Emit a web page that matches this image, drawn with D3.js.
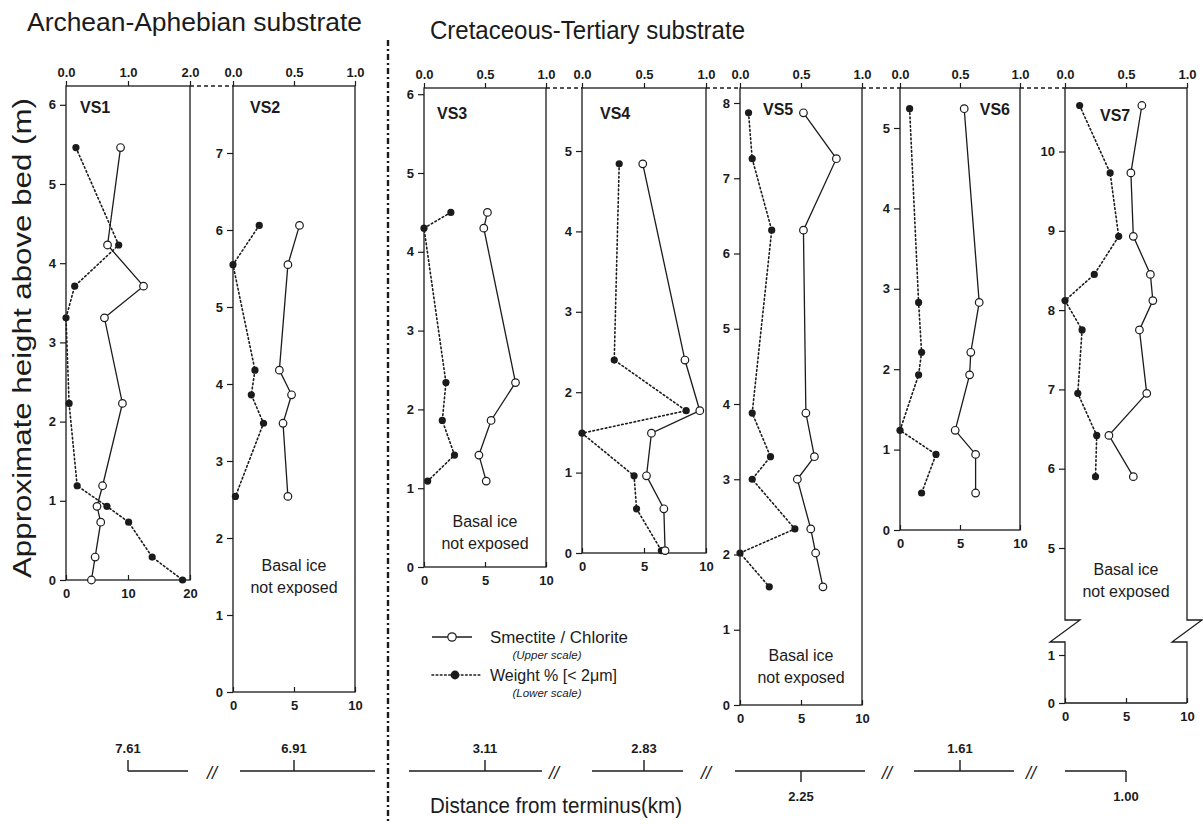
<!DOCTYPE html>
<html>
<head>
<meta charset="utf-8">
<script src="https://cdn.jsdelivr.net/npm/d3@7"></script>
<style>
  body { margin: 0; background: #fff; }
  svg  { font-family: "Liberation Sans", Arial, Helvetica, sans-serif; }
</style>
</head>
<body>
<svg id="chart" width="1203" height="824"></svg>
<script>
// ---- data (height above bed in m, smectite/chlorite ratio, weight % < 2 µm)
const vs1Height   = [5.46, 4.23, 3.71, 3.31, 2.23, 1.19, 0.93, 0.73, 0.29, 0.0];
const vs1Smectite = [0.88, 0.67, 1.25, 0.62, 0.91, 0.59, 0.50, 0.56, 0.47, 0.41];
const vs1Weight   = [1.6, 8.5, 1.4, 0, 0.5, 1.8, 6.6, 10.1, 13.9, 18.8];

const vs2Height   = [6.06, 5.55, 4.18, 3.86, 3.49, 2.54];
const vs2Smectite = [0.545, 0.45, 0.38, 0.48, 0.41, 0.45];
const vs2Weight   = [2.15, 0, 1.8, 1.5, 2.5, 0.2];

const vs3Height   = [4.5, 4.3, 2.34, 1.86, 1.42, 1.09];
const vs3Smectite = [0.52, 0.49, 0.75, 0.55, 0.45, 0.51];
const vs3Weight   = [2.2, 0, 1.8, 1.5, 2.5, 0.3];

const vs4Height   = [4.84, 2.40, 1.77, 1.49, 0.96, 0.55, 0.03];
const vs4Smectite = [0.49, 0.83, 0.95, 0.56, 0.52, 0.66, 0.67];
const vs4Weight   = [3.0, 2.6, 8.4, 0, 4.2, 4.4, 6.4];

const vs5Height   = [7.87, 7.26, 6.31, 3.88, 3.30, 3.0, 2.34, 2.02, 1.57];
const vs5Smectite = [0.52, 0.79, 0.52, 0.54, 0.61, 0.47, 0.58, 0.62, 0.68];
const vs5Weight   = [0.7, 1.0, 2.6, 1.0, 2.5, 1.0, 4.5, 0, 2.4];

const vs6Height   = [5.24, 2.83, 2.21, 1.93, 1.24, 0.94, 0.46];
const vs6Smectite = [0.535, 0.66, 0.59, 0.58, 0.46, 0.63, 0.63];
const vs6Weight   = [0.8, 1.55, 1.8, 1.55, 0, 3.0, 1.8];

const vs7Height   = [10.58, 9.73, 8.93, 8.45, 8.12, 7.75, 6.95, 6.42, 5.90];
const vs7Smectite = [0.63, 0.54, 0.56, 0.70, 0.72, 0.61, 0.67, 0.36, 0.56];
const vs7Weight   = [1.2, 3.7, 4.4, 2.4, 0, 1.4, 1.05, 2.6, 2.5];

const sectionNames = ["VS1", "VS2", "VS3", "VS4", "VS5", "VS6", "VS7"];
const distanceLabels = ["7.61", "6.91", "3.11", "2.83", "2.25", "1.61", "1.00"];

// ---- layout
const INK = "#1b1b1b";
const svg = d3.select("#chart");

// per-panel geometry: x extent, top line, y of 0 m, px per metre
const panels = [
  { x0: 66,   x1: 190,  yTop: 86, y0: 580, ppm: 79.2, upMax: 2, upTicks: [0, 1, 2], lowMax: 20, lowTicks: [0, 10, 20],
    yTicks: d3.range(0, 7), title: [80, 113, "start"], basal: null },
  { x0: 233,  x1: 355,  yTop: 86, y0: 692, ppm: 77,   upMax: 1, upTicks: [0, 0.5, 1], lowMax: 10, lowTicks: [0, 5, 10],
    yTicks: d3.range(0, 8), title: [250, 113, "start"], basal: [294, 565] },
  { x0: 424,  x1: 546,  yTop: 88, y0: 567, ppm: 78.8, upMax: 1, upTicks: [0, 0.5, 1], lowMax: 10, lowTicks: [0, 5, 10],
    yTicks: d3.range(0, 7), title: [437, 119, "start"], basal: [485, 521] },
  { x0: 582,  x1: 706,  yTop: 88, y0: 553, ppm: 80.4, upMax: 1, upTicks: [0, 0.5, 1], lowMax: 10, lowTicks: [0, 5, 10],
    yTicks: d3.range(0, 6), title: [600, 119, "start"], basal: null },
  { x0: 740,  x1: 862,  yTop: 88, y0: 705, ppm: 75.25, upMax: 1, upTicks: [0, 0.5, 1], lowMax: 10, lowTicks: [0, 5, 10],
    yTicks: d3.range(0, 9), title: [763, 115, "start"], basal: [801, 655] },
  { x0: 900,  x1: 1020, yTop: 88, y0: 530, ppm: 80.4, upMax: 1, upTicks: [0, 0.5, 1], lowMax: 10, lowTicks: [0, 5, 10],
    yTicks: d3.range(0, 6), title: [1010, 115, "end"], basal: null },
  { x0: 1065, x1: 1187, yTop: 88, y0: 703, ppm: 79.3, upMax: 1, upTicks: [0, 0.5, 1], lowMax: 10, lowTicks: [0, 5, 10],
    yTicks: [0, 1, 5, 6, 7, 8, 9, 10], title: [1100, 121, "start"], basal: [1126, 569],
    brk: { lowPpm: 48, yBreakLow: 642, yBreakHigh: 620, upperZeroY: 548 + 5 * 79.3 } }
];

const series = [
  [vs1Height, vs1Smectite, vs1Weight],
  [vs2Height, vs2Smectite, vs2Weight],
  [vs3Height, vs3Smectite, vs3Weight],
  [vs4Height, vs4Smectite, vs4Weight],
  [vs5Height, vs5Smectite, vs5Weight],
  [vs6Height, vs6Smectite, vs6Weight],
  [vs7Height, vs7Smectite, vs7Weight]
];

function styleAxis(g) {
  g.select(".domain").remove();
  g.attr("font-family", null).attr("font-size", null);
  g.selectAll("line").attr("stroke", INK).attr("stroke-width", 1.2);
  g.selectAll("text").attr("fill", INK).attr("font-size", 13).attr("font-weight", "bold");
}

panels.forEach((p, i) => {
  const [hs, sm, wt] = series[i];
  const g = svg.append("g");

  const xU = d3.scaleLinear().domain([0, p.upMax]).range([p.x0, p.x1]);
  const xL = d3.scaleLinear().domain([0, p.lowMax]).range([p.x0, p.x1]);

  let y;
  if (p.brk) {
    // broken axis: short 0–1 m segment below the break, 5 m upward above it
    const b = p.brk;
    const lowTop = (p.y0 - b.yBreakLow) / b.lowPpm;
    const upBot = (b.upperZeroY - b.yBreakHigh) / p.ppm;
    const upTop = (b.upperZeroY - p.yTop) / p.ppm;
    y = d3.scaleLinear().domain([0, lowTop, upBot, upTop]).range([p.y0, b.yBreakLow, b.yBreakHigh, p.yTop]);
  } else {
    y = d3.scaleLinear().domain([0, (p.y0 - p.yTop) / p.ppm]).range([p.y0, p.yTop]);
  }

  // frame
  if (p.brk) {
    const b = p.brk, z = 15, top = p.yTop;
    const side = x => `M${x},${top}V${b.yBreakHigh}H${x + z}L${x - z},${b.yBreakLow}H${x}V${p.y0}`;
    g.append("path").attr("d", side(p.x0) + side(p.x1))
      .attr("fill", "none").attr("stroke", INK).attr("stroke-width", 1.3);
    g.append("path").attr("d", `M${p.x0},${top}H${p.x1}M${p.x0},${p.y0}H${p.x1}`)
      .attr("fill", "none").attr("stroke", INK).attr("stroke-width", 1.3);
  } else {
    g.append("rect")
      .attr("x", p.x0).attr("y", p.yTop)
      .attr("width", p.x1 - p.x0).attr("height", p.y0 - p.yTop)
      .attr("fill", "none").attr("stroke", INK).attr("stroke-width", 1.3);
  }

  // axes
  g.append("g").attr("transform", `translate(0,${p.yTop})`)
    .call(d3.axisTop(xU).tickValues(p.upTicks).tickFormat(d3.format(".1f")).tickSize(5).tickPadding(4))
    .call(styleAxis);
  g.append("g").attr("transform", `translate(0,${p.y0})`)
    .call(d3.axisBottom(xL).tickValues(p.lowTicks).tickFormat(d3.format("d")).tickSize(-5).tickPadding(9))
    .call(styleAxis);
  g.append("g").attr("transform", `translate(${p.x0},0)`)
    .call(d3.axisLeft(y).tickValues(p.yTicks).tickFormat(d3.format("d")).tickSize(6).tickPadding(4))
    .call(styleAxis);

  // section name
  g.append("text")
    .attr("x", p.title[0]).attr("y", p.title[1])
    .attr("text-anchor", p.title[2])
    .attr("font-size", 16).attr("font-weight", "bold").attr("fill", INK)
    .text(sectionNames[i]);

  if (p.basal) {
    const t = g.append("text")
      .attr("x", p.basal[0]).attr("y", p.basal[1])
      .attr("text-anchor", "middle").attr("font-size", 16).attr("fill", INK);
    t.append("tspan").attr("x", p.basal[0]).attr("dy", "0.35em").text("Basal ice");
    t.append("tspan").attr("x", p.basal[0]).attr("dy", "1.4em").text("not exposed");
  }

  const pts = hs.map((h, k) => ({ h, s: sm[k], w: wt[k] }));

  // weight % (dotted, filled dots, lower scale)
  g.append("path").datum(pts)
    .attr("d", d3.line().x(d => xL(d.w)).y(d => y(d.h)))
    .attr("fill", "none").attr("stroke", INK).attr("stroke-width", 1.6)
    .attr("stroke-dasharray", "1.6,2.6").attr("stroke-linecap", "round");

  // smectite / chlorite (solid, open circles, upper scale)
  g.append("path").datum(pts)
    .attr("d", d3.line().x(d => xU(d.s)).y(d => y(d.h)))
    .attr("fill", "none").attr("stroke", INK).attr("stroke-width", 1.3);

  g.selectAll("circle.w").data(pts).join("circle")
    .attr("class", "w")
    .attr("cx", d => xL(d.w)).attr("cy", d => y(d.h)).attr("r", 3.6)
    .attr("fill", INK);

  g.selectAll("circle.s").data(pts).join("circle")
    .attr("class", "s")
    .attr("cx", d => xU(d.s)).attr("cy", d => y(d.h)).attr("r", 3.8)
    .attr("fill", "#fff").attr("stroke", INK).attr("stroke-width", 1.2);
});

// dashed links between adjacent panel tops
const links = [[0, 1], [2, 3], [3, 4], [4, 5], [5, 6]];
svg.append("g").selectAll("line").data(links).join("line")
  .attr("x1", d => panels[d[0]].x1).attr("x2", d => panels[d[1]].x0)
  .attr("y1", d => panels[d[0]].yTop).attr("y2", d => panels[d[1]].yTop)
  .attr("stroke", INK).attr("stroke-width", 1.5).attr("stroke-dasharray", "4,3");

// substrate divider
svg.append("line")
  .attr("x1", 388).attr("x2", 388).attr("y1", 40).attr("y2", 824)
  .attr("stroke", INK).attr("stroke-width", 2.4).attr("stroke-dasharray", "6,3,2,3");

// headers
svg.append("text").attr("x", 27).attr("y", 31)
  .attr("font-size", 25).attr("fill", INK)
  .attr("textLength", 335).attr("lengthAdjust", "spacingAndGlyphs")
  .text("Archean-Aphebian substrate");
svg.append("text").attr("x", 430).attr("y", 39)
  .attr("font-size", 25).attr("fill", INK)
  .attr("textLength", 315).attr("lengthAdjust", "spacingAndGlyphs")
  .text("Cretaceous-Tertiary substrate");

// y axis title
svg.append("text")
  .attr("transform", "translate(31,338) rotate(-90)")
  .attr("text-anchor", "middle").attr("font-size", 25).attr("fill", INK)
  .attr("textLength", 480).attr("lengthAdjust", "spacingAndGlyphs")
  .text("Approximate height above bed (m)");

// ---- distance from terminus strip
const baseY = 771;
const centers = panels.map(p => (p.x0 + p.x1) / 2);
const segs = [[centers[0], 188], [240, 375], [409, 542], [592, 683], [735, 865], [914, 1014], [1065, centers[6]]];
const tickDir = [-1, -1, -1, -1, 1, -1, 1];   // -1 up with label above, 1 down with label below
const slashes = [212, 554, 706, 887, 1031];

const dg = svg.append("g");
dg.selectAll("line.seg").data(segs).join("line")
  .attr("class", "seg")
  .attr("x1", d => d[0]).attr("x2", d => d[1]).attr("y1", baseY).attr("y2", baseY)
  .attr("stroke", INK).attr("stroke-width", 1.4);
dg.selectAll("line.tk").data(centers).join("line")
  .attr("class", "tk")
  .attr("x1", d => d).attr("x2", d => d)
  .attr("y1", baseY).attr("y2", (d, i) => baseY + tickDir[i] * 11)
  .attr("stroke", INK).attr("stroke-width", 1.4);
dg.selectAll("text.dist").data(distanceLabels).join("text")
  .attr("class", "dist")
  .attr("x", (d, i) => centers[i])
  .attr("y", (d, i) => tickDir[i] < 0 ? baseY - 18 : baseY + 30)
  .attr("text-anchor", "middle").attr("font-size", 13).attr("font-weight", "bold").attr("fill", INK)
  .text(d => d);
dg.selectAll("text.sl").data(slashes).join("text")
  .attr("class", "sl")
  .attr("x", d => d).attr("y", baseY + 8)
  .attr("text-anchor", "middle").attr("font-size", 18).attr("font-style", "italic").attr("fill", INK)
  .text("//");

svg.append("text").attr("x", 430).attr("y", 813)
  .attr("font-size", 22).attr("fill", INK)
  .attr("textLength", 252).attr("lengthAdjust", "spacingAndGlyphs")
  .text("Distance from terminus(km)");

// ---- legend
const lg = svg.append("g").attr("fill", INK);
lg.append("line").attr("x1", 432).attr("x2", 472).attr("y1", 637).attr("y2", 637)
  .attr("stroke", INK).attr("stroke-width", 1.3);
lg.append("circle").attr("cx", 452).attr("cy", 637).attr("r", 4.2)
  .attr("fill", "#fff").attr("stroke", INK).attr("stroke-width", 1.2);
lg.append("text").attr("x", 490).attr("y", 643).attr("font-size", 16)
  .attr("textLength", 138).attr("lengthAdjust", "spacingAndGlyphs").text("Smectite / Chlorite");
lg.append("text").attr("x", 547).attr("y", 659).attr("font-size", 11.5).attr("font-style", "italic")
  .attr("text-anchor", "middle").text("(Upper scale)");
lg.append("line").attr("x1", 432).attr("x2", 480).attr("y1", 675).attr("y2", 675)
  .attr("stroke", INK).attr("stroke-width", 1.6).attr("stroke-dasharray", "1.6,2.6").attr("stroke-linecap", "round");
lg.append("circle").attr("cx", 455).attr("cy", 675).attr("r", 4.4);
lg.append("text").attr("x", 490).attr("y", 681).attr("font-size", 16)
  .attr("textLength", 127).attr("lengthAdjust", "spacingAndGlyphs").text("Weight % [< 2\u03bcm]");
lg.append("text").attr("x", 547).attr("y", 697).attr("font-size", 11.5).attr("font-style", "italic")
  .attr("text-anchor", "middle").text("(Lower scale)");
</script>
</body>
</html>
